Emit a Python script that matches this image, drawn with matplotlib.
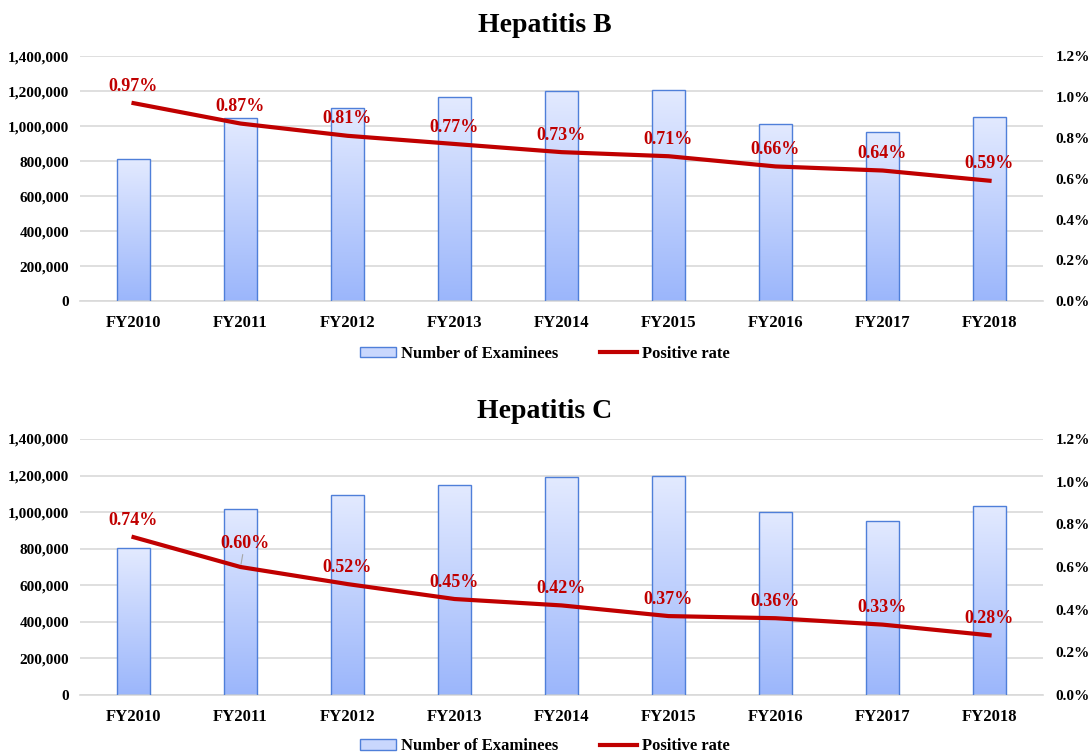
import numpy as np
import matplotlib.pyplot as plt
from matplotlib.patches import Patch
from matplotlib.lines import Line2D
from matplotlib.colors import LinearSegmentedColormap

plt.rcParams['font.family'] = ['Liberation Serif', 'DejaVu Serif']
plt.rcParams['font.weight'] = 'bold'

years = ['FY2010', 'FY2011', 'FY2012', 'FY2013', 'FY2014',
         'FY2015', 'FY2016', 'FY2017', 'FY2018']

# Hepatitis B
hb_examinees = [811000, 1044000, 1105000, 1165000, 1200000,
                1207000, 1013000, 968000, 1053000]
hb_rate = [0.97, 0.87, 0.81, 0.77, 0.73, 0.71, 0.66, 0.64, 0.59]

# Hepatitis C
hc_examinees = [802000, 1019000, 1094000, 1150000, 1190000,
                1195000, 1001000, 953000, 1035000]
hc_rate = [0.74, 0.60, 0.52, 0.45, 0.42, 0.37, 0.36, 0.33, 0.28]

bar_edge = '#4f7fd9'
line_red = '#c00000'
grid_col = '#d9d9d9'
grad = LinearSegmentedColormap.from_list('g', ['#9bb6fb', '#e3eaff'])


def draw_panel(ax, examinees, rate, leader=None):
    x = np.arange(len(years))
    bars = ax.bar(x, examinees, width=0.31, facecolor='none',
                  edgecolor=bar_edge, linewidth=1.0, zorder=3)
    # vertical gradient inside each bar
    g = np.linspace(0, 1, 256).reshape(-1, 1)
    for b in bars:
        x0, w, h = b.get_x(), b.get_width(), b.get_height()
        im = ax.imshow(g, cmap=grad, origin='lower', aspect='auto',
                       extent=[x0, x0 + w, 0, h], zorder=2)
        im.set_clip_path(b)
    ax.set_xlim(-0.5, len(years) - 0.5)
    ax.set_ylim(0, 1400000)
    ax.set_yticks(np.arange(0, 1400001, 200000))
    ax.set_yticklabels([f'{v:,}' for v in range(0, 1400001, 200000)])
    ax.set_xticks(x)
    ax.set_xticklabels(years)
    ax.yaxis.grid(True, color=grid_col, linewidth=1.2, zorder=0)
    ax.set_axisbelow(True)
    for s in ['top', 'right', 'left']:
        ax.spines[s].set_visible(False)
    ax.spines['bottom'].set_color(grid_col)
    ax.spines['bottom'].set_linewidth(1.2)
    ax.tick_params(length=0, labelsize=11, pad=8)
    ax.tick_params(axis='x', labelsize=12, pad=10)

    ax2 = ax.twinx()
    ax2.plot(x, rate, color=line_red, linewidth=3, zorder=5)
    ax2.set_ylim(0, 1.2)
    ax2.set_yticks(np.arange(0, 1.21, 0.2))
    ax2.set_yticklabels([f'{v:.1f}%' for v in np.arange(0, 1.21, 0.2)])
    for s in ['top', 'right', 'left', 'bottom']:
        ax2.spines[s].set_visible(False)
    ax2.tick_params(length=0, labelsize=11, pad=9)
    for i, (xi, r) in enumerate(zip(x, rate)):
        if i == leader:
            ax2.annotate(f'{r:.2f}%', (xi, r), xytext=(3, 11),
                         textcoords='offset points', ha='center',
                         va='bottom', color=line_red, fontsize=13,
                         fontweight='bold',
                         arrowprops=dict(arrowstyle='-', color='#a6a6a6',
                                         lw=0.8, shrinkA=0, shrinkB=2))
        else:
            ax2.annotate(f'{r:.2f}%', (xi, r), xytext=(0, 6),
                         textcoords='offset points', ha='center',
                         va='bottom', color=line_red, fontsize=13,
                         fontweight='bold')
    return ax2


fig = plt.figure(figsize=(10.89, 7.53), dpi=100)
ax_b = fig.add_axes([0.0735, 0.600, 0.8843, 0.3254])
ax_c = fig.add_axes([0.0735, 0.077, 0.8843, 0.340])

draw_panel(ax_b, hb_examinees, hb_rate)
draw_panel(ax_c, hc_examinees, hc_rate, leader=1)

fig.text(0.5, 0.966, 'Hepatitis B', ha='center', va='center',
         fontsize=20, fontweight='bold')
fig.text(0.5, 0.454, 'Hepatitis C', ha='center', va='center',
         fontsize=20, fontweight='bold')

handles = [Patch(facecolor='#c9d7fd', edgecolor=bar_edge, linewidth=1.0),
           Line2D([0], [0], color=line_red, linewidth=3)]
labels = ['Number of Examinees', 'Positive rate']
for y in [0.530, 0.009]:
    fig.legend(handles, labels, loc='center', bbox_to_anchor=(0.5, y),
               ncol=2, frameon=False, fontsize=12, handlelength=2.2,
               handleheight=0.6, columnspacing=2.5, handletextpad=0.3)

fig.savefig('out.png', dpi=100)
